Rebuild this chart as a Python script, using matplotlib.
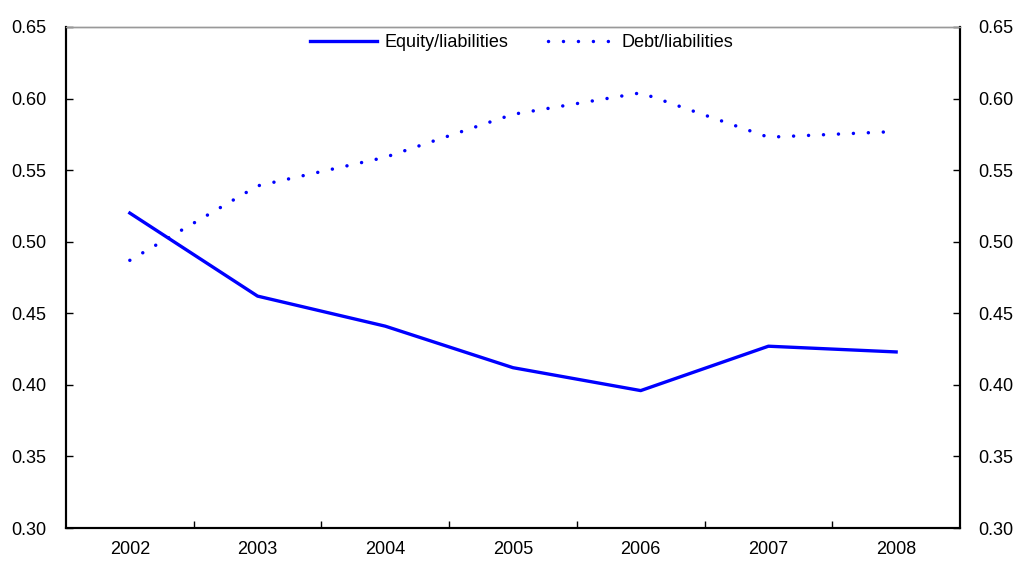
import matplotlib
matplotlib.use('Agg')
from matplotlib import pyplot as plt
import numpy as np

years = ['2002', '2003', '2004', '2005', '2006', '2007', '2008']
equity = [0.520, 0.462, 0.441, 0.412, 0.396, 0.427, 0.423]
debt = [0.487, 0.539, 0.559, 0.589, 0.604, 0.573, 0.577]
y_ticks = [0.30, 0.35, 0.40, 0.45, 0.50, 0.55, 0.60, 0.65]

plt.rcParams['font.family'] = ['Liberation Sans', 'DejaVu Sans']
plt.rcParams['font.size'] = 13

fig = plt.figure(figsize=(10.15, 5.61), dpi=100)
ax = fig.add_axes([0.065, 0.0588, 0.8808, 0.8931])

x = np.arange(len(years))
ax.plot(x, equity, color='#0000ff', lw=2.4, label='Equity/liabilities')
ax.plot(x, debt, color='#0000ff', lw=2.5, linestyle=(0, (0.01, 4.3)),
        dash_capstyle='round', label='Debt/liabilities')

ax.set_xlim(-0.5, len(years) - 0.5)
ax.set_ylim(0.30, 0.65)
ax.set_yticks(y_ticks)
ax.set_yticklabels([f'{v:.2f}' for v in y_ticks])

ax.set_xticks(x)
ax.set_xticklabels(years)
ax.set_xticks(x[:-1] + 0.5, minor=True)
ax.tick_params(axis='x', which='major', length=0, pad=9)
ax.tick_params(axis='x', which='minor', direction='in', length=5, width=1)
ax.tick_params(axis='y', direction='in', length=5, width=1, pad=14)

ax2 = ax.twinx()
ax2.set_ylim(ax.get_ylim())
ax2.set_yticks(y_ticks)
ax2.set_yticklabels([f'{v:.2f}' for v in y_ticks])
ax2.tick_params(axis='y', direction='in', length=5, width=1, pad=13)

for a in (ax, ax2):
    a.spines['top'].set_color('#999999')
    a.spines['top'].set_linewidth(1)
    for s in ('left', 'right', 'bottom'):
        a.spines[s].set_linewidth(1.5)
        a.spines[s].set_color('black')

ax.legend(loc='upper center', bbox_to_anchor=(0.51, 1.0), ncol=2, frameon=False,
          handlelength=3.7, handletextpad=0.4, columnspacing=2.2,
          borderaxespad=0.0, fontsize=13)

fig.savefig('out.png', dpi=100)
